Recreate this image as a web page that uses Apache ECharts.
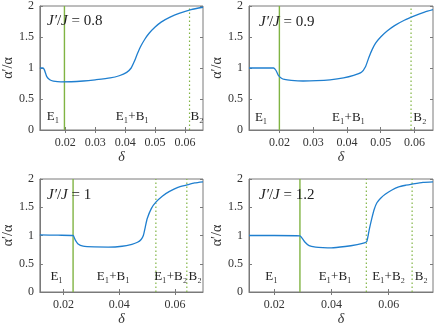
<!DOCTYPE html>
<html>
<head>
<meta charset="utf-8">
<script src="https://cdn.jsdelivr.net/npm/echarts@6/dist/echarts.min.js"></script>
<style>
  html, body { margin: 0; padding: 0; background: #fff; }
  #chart { width: 436px; height: 327px; }
</style>
</head>
<body>
<div id="chart"></div>
<script>
// α'/α against δ, four values of J'/J
var ratios = ['0.8', '0.9', '1', '1.2'];

var delta08 = [0.0115, 0.0125, 0.013, 0.0138, 0.0148, 0.016, 0.0185, 0.022, 0.026, 0.03, 0.035, 0.038, 0.0405, 0.042, 0.043, 0.044, 0.0452, 0.0465, 0.048, 0.05, 0.052, 0.055, 0.058, 0.062, 0.066];
var alpha08 = [1.0, 1.0, 0.97, 0.86, 0.81, 0.79, 0.777, 0.778, 0.79, 0.81, 0.84, 0.875, 0.93, 1.0, 1.1, 1.22, 1.35, 1.46, 1.56, 1.66, 1.74, 1.82, 1.88, 1.94, 1.98];

var delta09 = [0.011, 0.0183, 0.019, 0.0197, 0.0205, 0.0215, 0.0235, 0.027, 0.031, 0.035, 0.039, 0.042, 0.0443, 0.0455, 0.0465, 0.0475, 0.0485, 0.05, 0.052, 0.054, 0.057, 0.06, 0.063, 0.0655];
var alpha09 = [1.0, 1.0, 0.96, 0.88, 0.84, 0.815, 0.8, 0.79, 0.795, 0.81, 0.84, 0.88, 0.93, 1.02, 1.17, 1.3, 1.4, 1.5, 1.6, 1.68, 1.77, 1.84, 1.9, 1.94];

var delta10 = [0.0115, 0.018, 0.0234, 0.0241, 0.0252, 0.027, 0.031, 0.036, 0.041, 0.0445, 0.0465, 0.0478, 0.0486, 0.0493, 0.05, 0.0515, 0.0531, 0.0555, 0.058, 0.061, 0.064, 0.067, 0.07];
var alpha10 = [1.01, 1.005, 1.0, 0.93, 0.85, 0.81, 0.797, 0.795, 0.81, 0.845, 0.88, 0.93, 1.0, 1.15, 1.3, 1.48, 1.59, 1.7, 1.78, 1.85, 1.89, 1.93, 1.95];

var delta12 = [0.0112, 0.02, 0.029, 0.0298, 0.0308, 0.0322, 0.0345, 0.037, 0.04, 0.0448, 0.049, 0.0515, 0.0524, 0.0532, 0.0541, 0.055, 0.0559, 0.0572, 0.0588, 0.061, 0.0635, 0.066, 0.0682, 0.072, 0.0755];
var alpha12 = [1.0, 1.0, 0.995, 0.95, 0.88, 0.82, 0.795, 0.785, 0.78, 0.805, 0.84, 0.87, 0.9, 1.1, 1.3, 1.47, 1.58, 1.66, 1.73, 1.8, 1.86, 1.89, 1.91, 1.94, 1.95];

// phase boundaries: solid = first, dotted = the rest
var solidLines = [0.0197, 0.02, 0.0234, 0.029];
var dottedLines = [[0.0615], [0.059], [0.0531, 0.0642], [0.0522, 0.0682]];

// x ranges and tick labels
var xMin = [0.0115, 0.011, 0.0115, 0.0112];
var xMax = [0.066, 0.0655, 0.07, 0.0755];
var xTicks = [
    [0.02, 0.03, 0.04, 0.05, 0.06],
    [0.02, 0.03, 0.04, 0.05, 0.06],
    [0.02, 0.04, 0.06],
    [0.02, 0.04, 0.06]
];

// phase names and where they sit
var phaseNames = [
    ['E₁', 'E₁+B₁', 'B₂'],
    ['E₁', 'E₁+B₁', 'B₂'],
    ['E₁', 'E₁+B₁', 'E₁+B₂', 'B₂'],
    ['E₁', 'E₁+B₁', 'E₁+B₂', 'B₂']
];
var phaseAt = [
    [0.0159, 0.0424, 0.064],
    [0.0146, 0.0405, 0.0616],
    [0.0175, 0.0378, 0.0584, 0.0672],
    [0.0191, 0.0413, 0.06, 0.0714]
];
var phaseY = [0.21, 0.2, 0.27, 0.27];

var deltas = [delta08, delta09, delta10, delta12];
var alphas = [alpha08, alpha09, alpha10, alpha12];

var font = 'Liberation Serif';
var axisColor = '#7a7a7a';
var green = '#80b443';

var grids = [
    { left: 37, top: 5, width: 166, height: 125 },
    { left: 249, top: 6, width: 184, height: 124 },
    { left: 37, top: 179, width: 166, height: 117 },
    { left: 249, top: 179, width: 184, height: 117 }
];

var xAxes = [], yAxes = [], series = [], titles = [];

function vline(i, x, dotted) {
    return {
        type: 'line', xAxisIndex: 2 * i, yAxisIndex: 2 * i,
        data: [[x, 0], [x, 2]], showSymbol: false, silent: true, z: 2,
        lineStyle: dotted
            ? { color: green, width: 1.2, type: [1.5, 2.5] }
            : { color: green, width: 1.4, type: 'solid' }
    };
}

grids.forEach(function (g, i) {
    g.show = true;
    g.borderColor = axisColor;
    g.borderWidth = 1;
    g.backgroundColor = 'transparent';

    xAxes.push({
        type: 'value', gridIndex: i, min: xMin[i], max: xMax[i],
        name: 'δ', nameLocation: 'middle', nameGap: 20,
        nameTextStyle: { fontFamily: font, fontStyle: 'italic', fontSize: 14, color: '#333' },
        axisLine: { show: true, lineStyle: { color: axisColor } },
        axisTick: { inside: true, length: 3, customValues: xTicks[i], lineStyle: { color: axisColor } },
        axisLabel: {
            customValues: xTicks[i], margin: 7,
            fontFamily: font, fontSize: 12, color: '#333',
            formatter: function (v) { return v.toFixed(2); }
        },
        splitLine: { show: false }
    });
    xAxes.push({
        type: 'value', gridIndex: i, min: xMin[i], max: xMax[i], position: 'top',
        axisLine: { show: false },
        axisTick: { inside: true, length: 3, customValues: xTicks[i], lineStyle: { color: axisColor } },
        axisLabel: { show: false },
        splitLine: { show: false }
    });
    yAxes.push({
        type: 'value', gridIndex: i, min: 0, max: 2, interval: 0.5,
        name: "α′/α", nameLocation: 'middle', nameGap: 22, nameRotate: 90,
        nameTextStyle: { fontFamily: font, fontSize: 14, color: '#333' },
        axisLine: { show: true, lineStyle: { color: axisColor } },
        axisTick: { inside: true, length: 3, lineStyle: { color: axisColor } },
        axisLabel: { margin: 6, fontFamily: font, fontSize: 12, color: '#333' },
        splitLine: { show: false }
    });
    yAxes.push({
        type: 'value', gridIndex: i, min: 0, max: 2, interval: 0.5, position: 'right',
        axisLine: { show: false },
        axisTick: { inside: true, length: 3, lineStyle: { color: axisColor } },
        axisLabel: { show: false },
        splitLine: { show: false }
    });

    var pts = deltas[i].map(function (d, k) { return [d, alphas[i][k]]; });
    var marks = phaseNames[i].map(function (n, k) {
        return { name: n, coord: [phaseAt[i][k], phaseY[i]] };
    });

    series.push(vline(i, solidLines[i], false));
    dottedLines[i].forEach(function (d) { series.push(vline(i, d, true)); });

    series.push({
        type: 'line', xAxisIndex: 2 * i, yAxisIndex: 2 * i,
        data: pts, showSymbol: false, smooth: 0.2,
        lineStyle: { color: '#1f7fcf', width: 1.3 },
        z: 3,
        markPoint: {
            silent: true, symbol: 'circle', symbolSize: 0, data: marks,
            label: {
                show: true, position: 'inside', formatter: '{b}',
                fontFamily: font, fontSize: 13, color: '#222'
            }
        }
    });

    titles.push({
        text: '{i|J′}/{i|J} = ' + ratios[i],
        left: g.left + 5, top: g.top + 4,
        textStyle: {
            fontFamily: font, fontSize: 15, fontWeight: 'normal', color: '#222',
            rich: { i: { fontFamily: font, fontStyle: 'italic', fontSize: 15, color: '#222' } }
        }
    });
});

var chart = echarts.init(document.getElementById('chart'));
chart.setOption({
    animation: false,
    title: titles,
    grid: grids,
    xAxis: xAxes,
    yAxis: yAxes,
    series: series
});
</script>
</body>
</html>
